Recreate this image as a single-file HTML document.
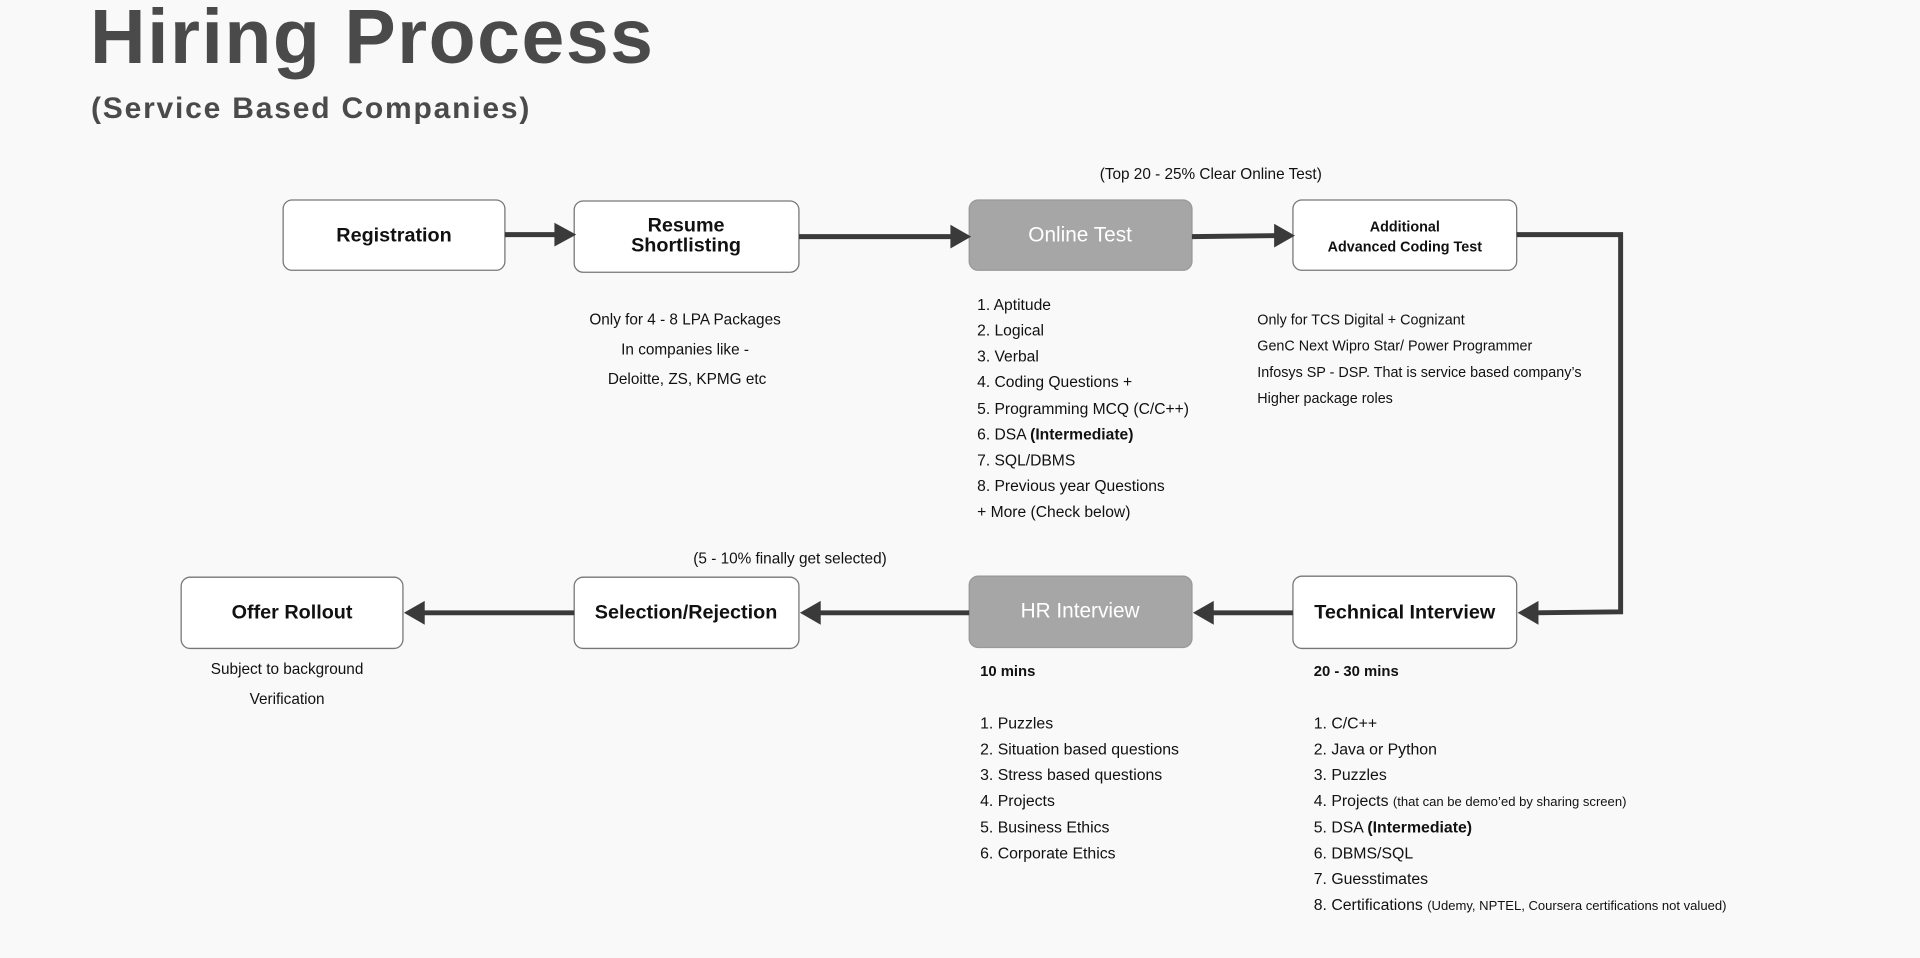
<!DOCTYPE html>
<html><head><meta charset="utf-8"><style>
html,body{margin:0;padding:0;background:#f9f9f9;}
svg{display:block;font-family:"Liberation Sans",sans-serif;}
</style></head><body>
<svg width="1920" height="958" viewBox="0 0 1920 958" xmlns="http://www.w3.org/2000/svg">
<rect width="1920" height="958" fill="#f9f9f9"/>
<text x="90" y="63" font-size="77" font-weight="bold" fill="#4a4a4a" letter-spacing="1.5">Hiring Process</text>
<text x="91" y="118" font-size="30" font-weight="bold" fill="#4a4a4a" letter-spacing="1.8">(Service Based Companies)</text>

<g transform="scale(0.99)">
<g stroke="#777" stroke-width="1.3">
<rect x="286" y="202" width="224" height="71" rx="9" fill="#fff"/>
<rect x="580" y="203" width="227" height="72" rx="9" fill="#fff"/>
<rect x="979" y="202" width="225" height="71" rx="9" fill="#a6a6a6" stroke="#999"/>
<rect x="1306" y="202" width="226" height="71" rx="9" fill="#fff"/>
<rect x="183" y="583" width="224" height="72" rx="9" fill="#fff"/>
<rect x="580" y="583" width="227" height="72" rx="9" fill="#fff"/>
<rect x="979" y="582" width="225" height="72" rx="9" fill="#a6a6a6" stroke="#999"/>
<rect x="1306" y="582" width="226" height="73" rx="9" fill="#fff"/>
</g>

<g fill="#111" font-size="20" font-weight="bold" text-anchor="middle">
<text x="398" y="244">Registration</text>
<text x="693" y="234">Resume</text>
<text x="693" y="254">Shortlisting</text>
<text x="1091" y="244" fill="#fff" font-weight="normal" font-size="21">Online Test</text>
<text x="1419" y="234" font-size="14.5">Additional</text>
<text x="1419" y="254" font-size="14.5">Advanced Coding Test</text>
<text x="295" y="625">Offer Rollout</text>
<text x="693" y="625">Selection/Rejection</text>
<text x="1091" y="624" fill="#fff" font-weight="normal" font-size="21">HR Interview</text>
<text x="1419" y="625">Technical Interview</text>
</g>

<g stroke="#3a3a3a" stroke-width="5" fill="none">
<line x1="510" y1="237" x2="562" y2="237"/>
<line x1="807" y1="239" x2="962" y2="239"/>
<line x1="1204" y1="239" x2="1290" y2="238"/>
<polyline points="1532,237 1637,237 1637,618 1550,619"/>
<line x1="1306" y1="619" x2="1222" y2="619"/>
<line x1="979" y1="619" x2="825" y2="619"/>
<line x1="580" y1="619" x2="425" y2="619"/>
</g>
<g fill="#3a3a3a">
<polygon points="560,225 582,237 560,249"/>
<polygon points="960,227 981,239 960,251"/>
<polygon points="1287,226 1308,238 1287,250"/>
<polygon points="1554,607 1533,619 1554,631"/>
<polygon points="1226,607 1205,619 1226,631"/>
<polygon points="829,607 808,619 829,631"/>
<polygon points="429,607 408,619 429,631"/>
</g>

<g font-size="15.5" fill="#111">
<text x="1223" y="181" text-anchor="middle">(Top 20 - 25% Clear Online Test)</text>
<g text-anchor="middle">
<text x="692" y="328">Only for 4 - 8 LPA Packages</text>
<text x="692" y="358">In companies like -</text>
<text x="694" y="388">Deloitte, ZS, KPMG etc</text>
<text x="798" y="569">(5 - 10% finally get selected)</text>
<text x="290" y="681">Subject to background</text>
<text x="290" y="711">Verification</text>
</g>
<g font-size="15.8">
<text x="987" y="313">1. Aptitude</text>
<text x="987" y="339">2. Logical</text>
<text x="987" y="365">3. Verbal</text>
<text x="987" y="391">4. Coding Questions +</text>
<text x="987" y="418">5. Programming MCQ (C/C++)</text>
<text x="987" y="444">6. DSA <tspan font-weight="bold">(Intermediate)</tspan></text>
<text x="987" y="470">7. SQL/DBMS</text>
<text x="987" y="496">8. Previous year Questions</text>
<text x="987" y="522">+ More (Check below)</text>
</g>
<g font-size="14.5">
<text x="1270" y="328">Only for TCS Digital + Cognizant</text>
<text x="1270" y="354">GenC Next Wipro Star/ Power Programmer</text>
<text x="1270" y="381">Infosys SP - DSP. That is service based company’s</text>
<text x="1270" y="407">Higher package roles</text>
</g>
<g font-size="16">
<text x="990" y="683" font-weight="bold" font-size="15">10 mins</text>
<text x="990" y="736">1. Puzzles</text>
<text x="990" y="762">2. Situation based questions</text>
<text x="990" y="788">3. Stress based questions</text>
<text x="990" y="814">4. Projects</text>
<text x="990" y="841">5. Business Ethics</text>
<text x="990" y="867">6. Corporate Ethics</text>
<text x="1327" y="683" font-weight="bold" font-size="15">20 - 30 mins</text>
<text x="1327" y="736">1. C/C++</text>
<text x="1327" y="762">2. Java or Python</text>
<text x="1327" y="788">3. Puzzles</text>
<text x="1327" y="814">4. Projects <tspan font-size="13.2">(that can be demo’ed by sharing screen)</tspan></text>
<text x="1327" y="841">5. DSA <tspan font-weight="bold">(Intermediate)</tspan></text>
<text x="1327" y="867">6. DBMS/SQL</text>
<text x="1327" y="893">7. Guesstimates</text>
<text x="1327" y="919">8. Certifications <tspan font-size="13.2">(Udemy, NPTEL, Coursera certifications not valued)</tspan></text>
</g>
</g>
</g>
</svg>
</body></html>
